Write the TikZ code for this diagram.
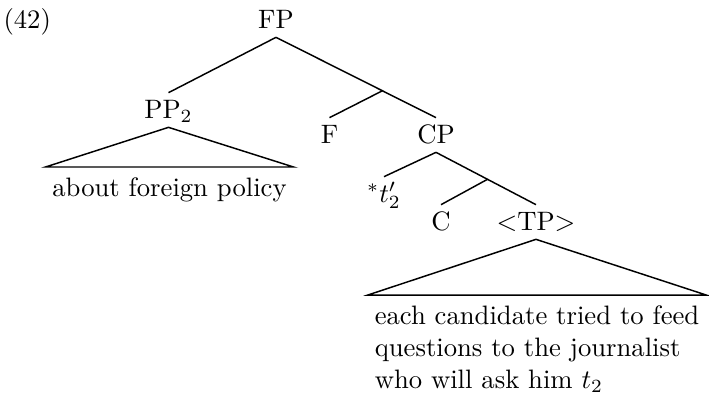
\documentclass[tikz,border=0pt]{standalone}
\usepackage{tikz}

\tikzset{
  cat/.style={anchor=base, inner xsep=0pt, inner ysep=2.5pt, outer sep=0pt, text height=7pt, text depth=1pt},
  yield/.style={anchor=north, inner xsep=2.6pt, inner ysep=4pt, outer sep=0pt},
  branch/.style={black, line width=0.55pt}
}

\begin{document}
\begin{tikzpicture}[x=0.375pt, y=-0.375pt]

\useasboundingbox (0,0) rectangle (709,396);

\node[anchor=base west, inner sep=0pt] (ex) at (3,28) {(42)};

\node[cat] (FP) at (276,28) {FP};
\node[cat] (PP) at (168.5,118) {PP$_2$};
\node[cat] (F) at (329.5,143) {F};
\node[cat] (CP) at (436,143) {CP};
\node[cat] (ts) at (384,202) {$^*t'_2$};
\node[cat] (C) at (441,230) {C};
\node[cat] (TP) at (536,230) {$<$TP$>$};

\node[yield] (about) at (169.5,167) {about foreign policy};
\node[yield, align=left] (each) at (537,295) {each candidate tried to feed\\questions to the journalist\\who will ask him $t_2$};

\draw[branch] (FP.south) -- (PP.north);
\draw[branch] (FP.south) -- (CP.north) coordinate[pos=0.665] (fj);
\draw[branch] (fj) -- (F.north);

\draw[branch] (CP.south) -- (ts.north);
\draw[branch] (CP.south) -- (TP.north) coordinate[pos=0.515] (cj);
\draw[branch] (cj) -- (C.north);

\draw[branch] (PP.south) -- (about.north west) -- (about.north east) -- cycle;
\draw[branch] (TP.south) -- (each.north west) -- (each.north east) -- cycle;

\end{tikzpicture}
\end{document}
